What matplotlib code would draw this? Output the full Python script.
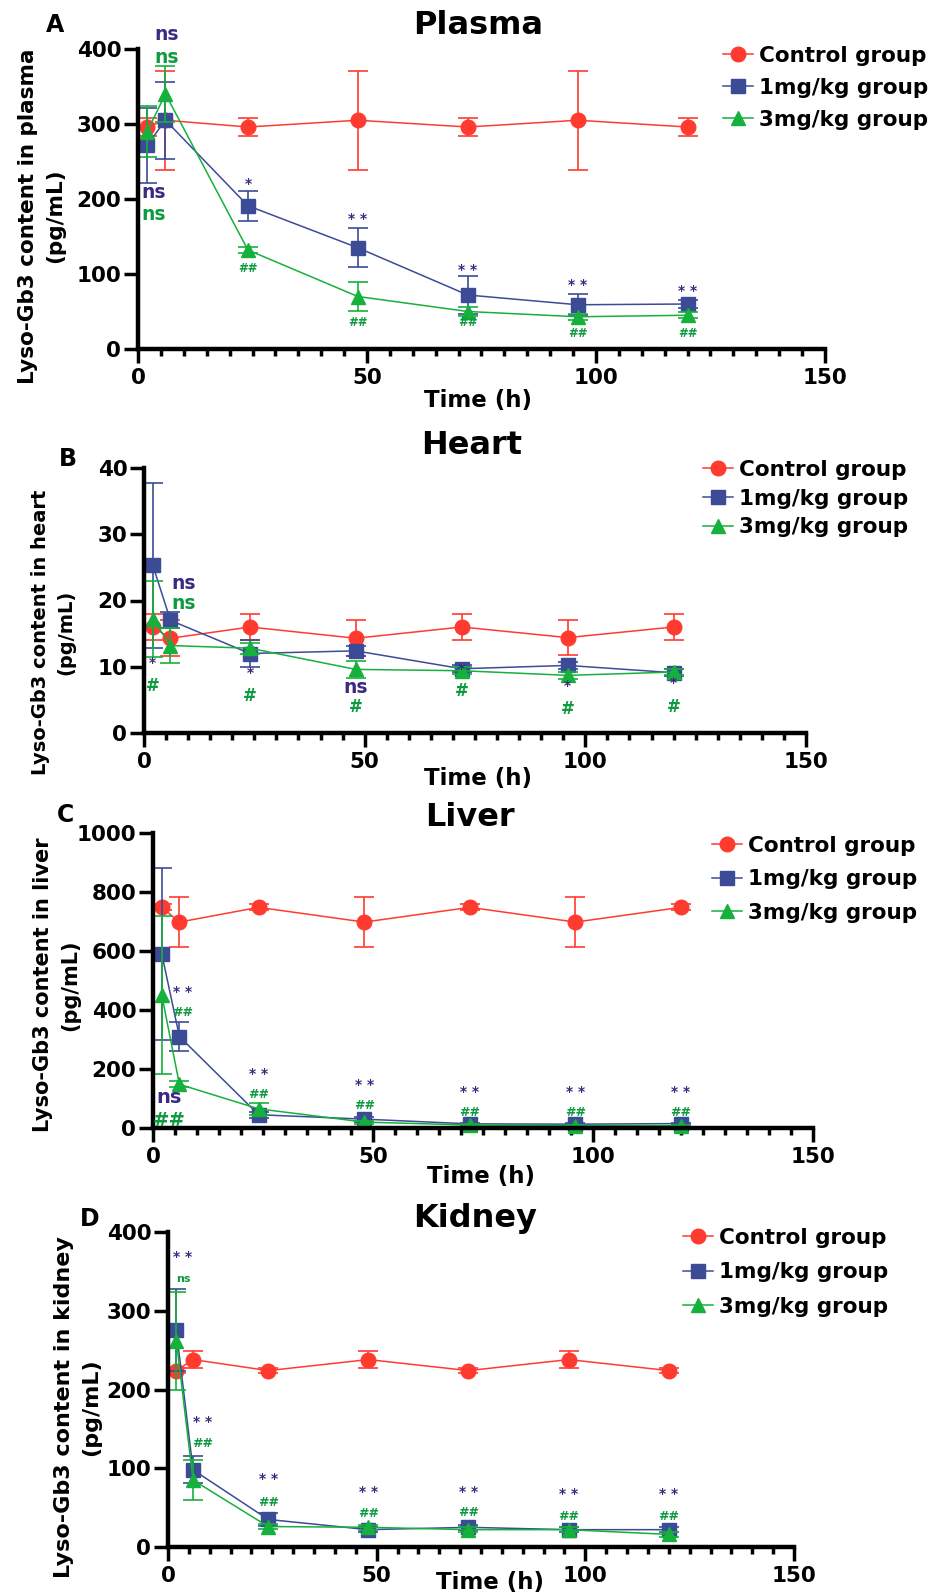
import matplotlib
matplotlib.use('Agg')
import matplotlib.pyplot as plt

plt.rcParams['font.family'] = ['DejaVu Sans']
plt.rcParams['font.weight'] = 'bold'

W, H = 942, 1595

TIME = [2, 6, 24, 48, 72, 96, 120]
GROUPS = ['Control group', '1mg/kg group', '3mg/kg group']

PLASMA_CTRL = [296, 305, 296, 305, 296, 305, 296]
PLASMA_CTRL_SD = [12, 66, 12, 66, 12, 66, 12]
PLASMA_1MG = [272, 305, 191, 135, 72, 59, 60]
PLASMA_1MG_SD = [50, 51, 20, 26, 25, 14, 5]
PLASMA_3MG = [290, 340, 132, 70, 50, 43, 45]
PLASMA_3MG_SD = [34, 37, 4, 19, 6, 4, 4]

HEART_CTRL = [16, 14.3, 16, 14.3, 16, 14.4, 16]
HEART_CTRL_SD = [2, 2.7, 2, 2.7, 2, 2.6, 2]
HEART_1MG = [25.3, 17, 12, 12.4, 9.7, 10.2, 9.1]
HEART_1MG_SD = [12.4, 1.2, 2, 0.8, 0.5, 0.5, 0.5]
HEART_3MG = [17.2, 13.2, 12.8, 9.6, 9.4, 8.7, 9.2]
HEART_3MG_SD = [5.7, 2.7, 0.8, 1.3, 0.5, 0.5, 0.5]

LIVER_CTRL = [748, 698, 748, 698, 748, 698, 748]
LIVER_CTRL_SD = [10, 86, 10, 86, 10, 86, 10]
LIVER_1MG = [590, 310, 45, 30, 14, 13, 15]
LIVER_1MG_SD = [293, 48, 10, 8, 3, 3, 3]
LIVER_3MG = [450, 148, 65, 20, 10, 8, 8]
LIVER_3MG_SD = [268, 10, 20, 5, 3, 3, 3]

KIDNEY_CTRL = [224, 238, 224, 238, 224, 238, 224]
KIDNEY_CTRL_SD = [3, 11, 3, 11, 3, 11, 3]
KIDNEY_1MG = [275, 98, 35, 22, 25, 22, 22]
KIDNEY_1MG_SD = [52, 17, 8, 3, 3, 3, 3]
KIDNEY_3MG = [262, 85, 26, 25, 22, 22, 16]
KIDNEY_3MG_SD = [62, 25, 3, 3, 3, 3, 3]

P = '#3a2a80'   # purple annotation
G = '#0e9a40'   # green annotation

# significance marks: (time, value, text, colour, fontsize)
PLASMA_SIG = [(6.3, 420, 'ns', P, 13.5), (6.3, 389, 'ns', G, 13.5),
              (3.5, 209, 'ns', P, 13.5), (3.5, 180, 'ns', G, 13.5),
              (24, 220, '*', P, 10), (24, 108, '##', G, 8.5),
              (48, 173, '* *', P, 10), (48, 35, '##', G, 8.5),
              (72, 105, '* *', P, 10), (72, 36, '##', G, 8.5),
              (96, 85, '* *', P, 10), (96, 21, '##', G, 8.5),
              (120, 77, '* *', P, 10), (120, 21, '##', G, 8.5)]
HEART_SIG = [(2, 10.6, '*', P, 10), (2, 7.1, '#', G, 12),
             (8.9, 22.6, 'ns', P, 13.5), (8.9, 19.5, 'ns', G, 13.5),
             (24, 9.0, '*', P, 10), (24, 5.6, '#', G, 12),
             (48, 6.9, 'ns', P, 13.5), (48, 3.9, '#', G, 12),
             (72, 9.7, '*', P, 10), (72, 6.3, '#', G, 12),
             (96, 7.1, '*', P, 10), (96, 3.6, '#', G, 12),
             (120, 7.5, '*', P, 10), (120, 3.9, '#', G, 12)]
LIVER_SIG = [(6.8, 461, '* *', P, 10), (6.8, 390, '##', G, 9),
             (3.6, 102, 'ns', P, 14), (3.6, 24, '##', G, 14),
             (24, 183, '* *', P, 10), (24, 115, '##', G, 9),
             (48, 146, '* *', P, 10), (48, 75, '##', G, 9),
             (72, 122, '* *', P, 10), (72, 54, '##', G, 9),
             (96, 122, '* *', P, 10), (96, 54, '##', G, 9),
             (120, 122, '* *', P, 10), (120, 54, '##', G, 9)]
KIDNEY_SIG = [(3.6, 368, '* *', P, 10), (3.6, 340, 'ns', G, 8),
              (8.4, 159, '* *', P, 10), (8.4, 132, '##', G, 9),
              (24, 86, '* *', P, 10), (24, 57, '##', G, 9),
              (48, 70, '* *', P, 10), (48, 42, '##', G, 9),
              (72, 70, '* *', P, 10), (72, 44, '##', G, 9),
              (96, 67, '* *', P, 10), (96, 39, '##', G, 9),
              (120, 67, '* *', P, 10), (120, 39, '##', G, 9)]

panels = [
    dict(letter='A', title='Plasma', organ='plasma', ymax=400, ystep=100,
         data=[(PLASMA_CTRL, PLASMA_CTRL_SD), (PLASMA_1MG, PLASMA_1MG_SD), (PLASMA_3MG, PLASMA_3MG_SD)],
         sig=PLASMA_SIG, box=(138, 825, 49, 349), letter_xy=(55, 25), title_xy=(478, 25),
         xlab_xy=(478, 400), ylab_xy=(42, 216), ylab_fs=15.5, leg_xy=(723, 46), leg_sp=0.55),
    dict(letter='B', title='Heart', organ='heart', ymax=40, ystep=10,
         data=[(HEART_CTRL, HEART_CTRL_SD), (HEART_1MG, HEART_1MG_SD), (HEART_3MG, HEART_3MG_SD)],
         sig=HEART_SIG, box=(144, 806, 468, 733), letter_xy=(68, 459), title_xy=(472, 445),
         xlab_xy=(478, 779), ylab_xy=(53, 632), ylab_fs=14, leg_xy=(703, 460), leg_sp=0.4),
    dict(letter='C', title='Liver', organ='liver', ymax=1000, ystep=200,
         data=[(LIVER_CTRL, LIVER_CTRL_SD), (LIVER_1MG, LIVER_1MG_SD), (LIVER_3MG, LIVER_3MG_SD)],
         sig=LIVER_SIG, box=(153, 813, 833, 1128), letter_xy=(65, 815), title_xy=(470, 818),
         xlab_xy=(481, 1177), ylab_xy=(57, 985), ylab_fs=15, leg_xy=(712, 836), leg_sp=0.62),
    dict(letter='D', title='Kidney', organ='kidney', ymax=400, ystep=100,
         data=[(KIDNEY_CTRL, KIDNEY_CTRL_SD), (KIDNEY_1MG, KIDNEY_1MG_SD), (KIDNEY_3MG, KIDNEY_3MG_SD)],
         sig=KIDNEY_SIG, box=(168, 794, 1232, 1547), letter_xy=(90, 1219), title_xy=(475, 1219),
         xlab_xy=(490, 1583), ylab_xy=(78, 1407), ylab_fs=16, leg_xy=(683, 1228), leg_sp=0.67),
]

colors = ['#ff3b30', '#3c4b96', '#16b03c']
markers = ['o', 's', '^']

fig = plt.figure(figsize=(W / 100, H / 100), dpi=100)


def fx(px):
    return px / W


def fy(py):
    return 1 - py / H


for p in panels:
    l, r, t, b = p['box']
    ax = fig.add_axes([fx(l), fy(b), fx(r - l), (b - t) / H])

    handles = []
    for (vals, sd), c, m in zip(p['data'], colors, markers):
        ax.errorbar(TIME, vals, yerr=sd, fmt='none', ecolor=c, elinewidth=1.2,
                    capsize=7, capthick=1.2, clip_on=False)
        line, = ax.plot(TIME, vals, color=c, marker=m, markersize=10.5, linewidth=1.1,
                        clip_on=False)
        handles.append(line)

    ax.set_xlim(0, 150)
    ax.set_ylim(0, p['ymax'])
    ax.set_xticks([0, 50, 100, 150])
    ax.set_xticks(range(0, 151, 5), minor=True)
    ax.set_yticks(range(0, p['ymax'] + 1, p['ystep']))
    for s in ['top', 'right']:
        ax.spines[s].set_visible(False)
    for s in ['left', 'bottom']:
        ax.spines[s].set_linewidth(3.2)
    ax.tick_params(axis='both', which='major', width=2.5, length=10, labelsize=15.5)
    ax.tick_params(axis='x', which='major', pad=4)
    ax.tick_params(axis='y', which='major', pad=2)
    ax.tick_params(axis='x', which='minor', width=2.5, length=5)
    for lab in ax.get_xticklabels() + ax.get_yticklabels():
        lab.set_fontweight('bold')

    for x, y, txt, c, fs in p['sig']:
        ax.text(x, y, txt, color=c, fontsize=fs, fontweight='bold',
                ha='center', va='center', clip_on=False)

    ax.legend(handles, GROUPS, loc='upper left', frameon=False,
              bbox_to_anchor=(fx(p['leg_xy'][0]), fy(p['leg_xy'][1])),
              bbox_transform=fig.transFigure, borderaxespad=0, borderpad=0,
              handlelength=1.4, handletextpad=0.25, labelspacing=p['leg_sp'],
              prop={'weight': 'bold', 'size': 15.5})

    fig.text(fx(p['letter_xy'][0]), fy(p['letter_xy'][1]), p['letter'], fontsize=17,
             fontweight='bold', ha='center', va='center')
    fig.text(fx(p['title_xy'][0]), fy(p['title_xy'][1]), p['title'], fontsize=23,
             fontweight='bold', ha='center', va='center')
    fig.text(fx(p['xlab_xy'][0]), fy(p['xlab_xy'][1]), 'Time (h)', fontsize=16.5,
             fontweight='bold', ha='center', va='center')
    fig.text(fx(p['ylab_xy'][0]), fy(p['ylab_xy'][1]),
             'Lyso-Gb3 content in ' + p['organ'] + '\n(pg/mL)',
             fontsize=p['ylab_fs'], fontweight='bold', rotation=90,
             ha='center', va='center', linespacing=1.45, multialignment='center')

fig.savefig('out.png', dpi=100)
